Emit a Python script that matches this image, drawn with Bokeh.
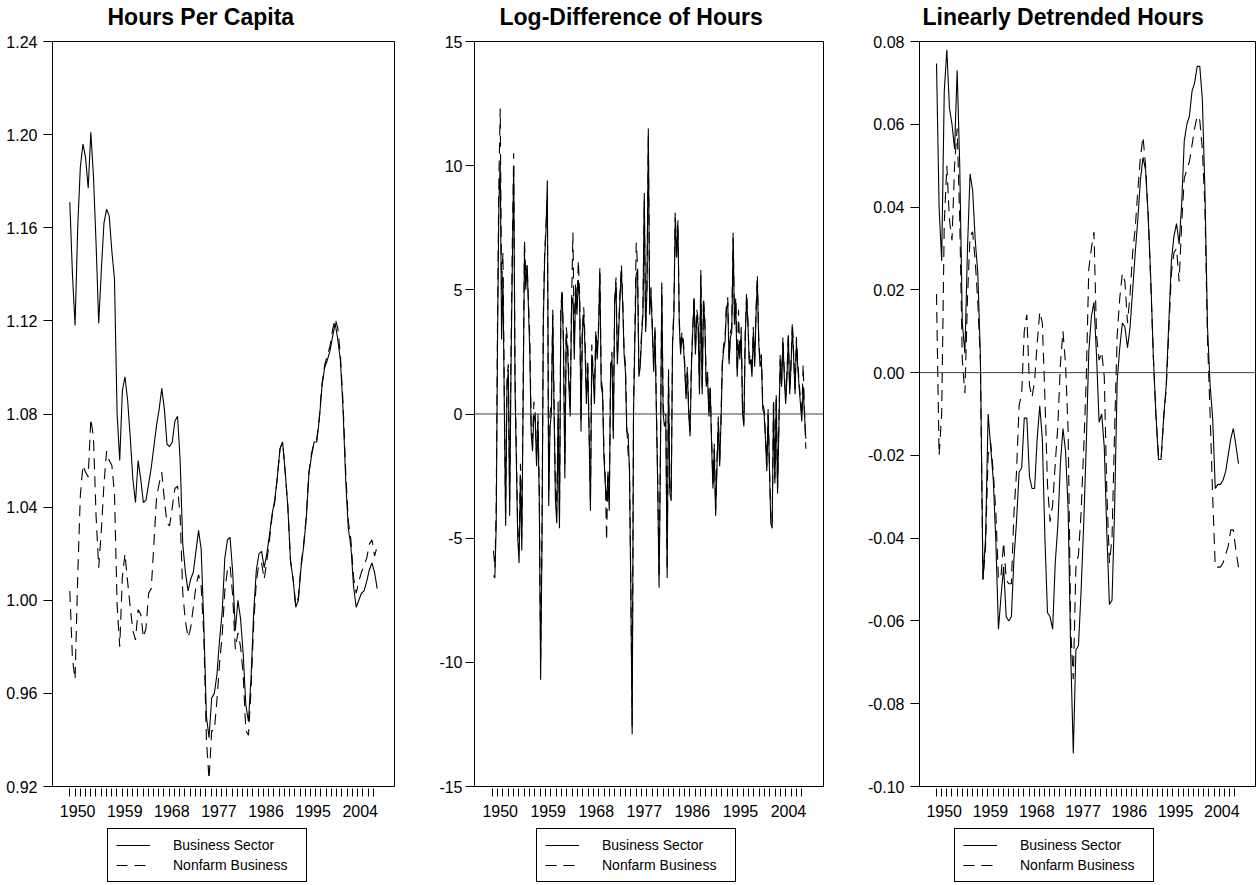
import numpy as np
from bokeh.plotting import figure
from bokeh.models import (Range1d, FixedTicker, LinearAxis, Span, Legend, LegendItem,
                          NumeralTickFormatter, Label)
from bokeh.layouts import row, column
from bokeh.embed import file_html
from bokeh.resources import INLINE

FONT = "Liberation Sans"

# ---------------- data ----------------
START_Q = 1949.0      # first observation (1949Q1)
END_Q = 2007.75       # last observation (2007Q4)

titles = ["Hours Per Capita", "Log-Difference of Hours", "Linearly Detrended Hours"]
series_names = ["Business Sector", "Nonfarm Business"]
label_years = [1950, 1959, 1968, 1977, 1986, 1995, 2004]
year_ticks = list(range(1949, 2008))

y_ticks_1 = [0.92, 0.96, 1.00, 1.04, 1.08, 1.12, 1.16, 1.20, 1.24]
y_ticks_2 = [-15, -10, -5, 0, 5, 10, 15]
y_ticks_3 = [-0.10, -0.08, -0.06, -0.04, -0.02, 0.00, 0.02, 0.04, 0.06, 0.08]

# Hours per capita (half-yearly readings)
hours_bus = [
    1.171, 1.140, 1.118, 1.160, 1.186, 1.196, 1.190, 1.177, 1.201, 1.182,
    1.153, 1.119, 1.142, 1.162, 1.168, 1.165, 1.150, 1.138, 1.080, 1.060,
    1.090, 1.096, 1.086, 1.070, 1.052, 1.042, 1.060, 1.052, 1.042, 1.043,
    1.050, 1.057, 1.066, 1.075, 1.082, 1.091, 1.082, 1.067, 1.066, 1.068,
    1.077, 1.079, 1.060, 1.024, 1.012, 1.004, 1.009, 1.012, 1.021, 1.030,
    1.022, 0.990, 0.950, 0.941, 0.958, 0.960, 0.968, 0.983, 0.995, 1.018,
    1.026, 1.027, 1.012, 0.987, 1.000, 0.992, 0.977, 0.955, 0.948, 0.967,
    0.995, 1.013, 1.020, 1.021, 1.014, 1.020, 1.028, 1.037, 1.043, 1.053,
    1.065, 1.068, 1.055, 1.040, 1.017, 1.009, 0.997, 1.000, 1.014, 1.023,
    1.035, 1.054, 1.062, 1.068, 1.068, 1.078, 1.092, 1.100, 1.103, 1.107,
    1.113, 1.119, 1.112, 1.103, 1.082, 1.052, 1.031, 1.023, 1.006, 0.997,
    1.000, 1.003, 1.004, 1.008, 1.013, 1.016, 1.012, 1.005]
hours_nfb = [
    1.004, 0.975, 0.966, 1.010, 1.045, 1.058, 1.055, 1.053, 1.078, 1.070,
    1.036, 1.014, 1.030, 1.050, 1.064, 1.060, 1.058, 1.046, 0.998, 0.980,
    1.010, 1.020, 1.008, 0.997, 0.987, 0.983, 0.996, 0.994, 0.984, 0.988,
    1.003, 1.005, 1.024, 1.044, 1.050, 1.055, 1.043, 1.033, 1.032, 1.040,
    1.048, 1.049, 1.036, 1.003, 0.991, 0.984, 0.988, 0.997, 1.006, 1.011,
    1.006, 0.985, 0.940, 0.923, 0.944, 0.944, 0.957, 0.973, 0.985, 1.004,
    1.013, 1.015, 1.002, 0.979, 0.986, 0.980, 0.968, 0.944, 0.942, 0.962,
    0.990, 1.008, 1.016, 1.016, 1.009, 1.017, 1.026, 1.036, 1.042, 1.053,
    1.065, 1.068, 1.055, 1.040, 1.017, 1.009, 0.998, 1.001, 1.015, 1.024,
    1.036, 1.055, 1.063, 1.068, 1.069, 1.079, 1.093, 1.101, 1.105, 1.109,
    1.116, 1.121, 1.117, 1.105, 1.085, 1.056, 1.034, 1.026, 1.010, 1.003,
    1.008, 1.012, 1.015, 1.018, 1.024, 1.026, 1.019, 1.023]

# Log-difference of hours (quarterly readings, from 1949Q2)
dlog_bus = [
    -6.5, -6.6, -4.5,
    3.0, 8.5, 10.1, 3.0,   5.5, 0.5, -4.5, 1.0,   1.8, -4.1, 1.8, 6.0,
    10.0, 1.0, -2.0, -5.0,  -6.0, -2.5, -5.5, 0.5,  6.5, 5.0, 6.0, 4.2,
    2.4, -0.8, -1.5, 0.0,  -0.3, -2.1, -0.3, -3.5,  -10.7, -5.3, 3.6, 6.3,
    7.4, 9.4, -3.7, -0.5,  0.0, 4.0, 0.0, -3.5,  -4.4, 0.0, -4.6, 4.0,
    4.9, 2.6, -2.6, 3.1,  2.6, 1.1, -0.1, 4.4,  4.7, 2.2, 5.1, 4.0,
    5.4, 4.5, -0.7, 3.3,  4.0, 2.6, 0.4, 1.9,  -0.8, -3.9, 2.4, 1.5,
    0.4, 3.1, 2.2, 3.3,  5.7, 1.1, 0.8, -1.7,  -2.8, -3.5, -2.5, -3.9,
    1.9, 2.2, -1.0, 4.4,  5.3, 2.0, 3.3, 4.7,  5.8, 4.4, 2.4, 1.7,
    -0.7, -0.8, -2.3, -7.1,  -12.9, 0.0, 3.0, 5.6,  5.8, 1.5, 1.9, 3.1,
    4.0, 8.9, 3.3, 5.0,  11.5,
    4.0, 4.9, 3.3, 1.7, 3.3, 0.0, -3.0, -7.0, -1.7, 5.1,
    0.0, -0.5, -0.3, -6.6, 1.5, -3.2, -3.5, 2.8, 4.0, 7.9,
    6.3, 7.6, 3.6, 2.4, 3.1, 2.8, 1.9, 0.6, 1.7, 0.0,
    -0.9, 1.9, 3.3, 4.6, 2.4, 4.0, 3.6, 0.8, 5.6, 0.8,
    4.5, 3.6, 1.1, 1.5, -0.1, 1.0, -1.2, -3.0, -1.4, -4.1,
    -2.1, -0.3, -2.1, -0.3, 2.0, 2.6, 2.9, 4.2, 4.5, 2.0,
    3.1, 3.3, 7.1, 3.6, 4.5, 1.5, 2.8, 2.2, 3.3, 0.0,
    -0.5, 3.1, 4.7, 3.6, 2.0, 2.2, 1.5, 3.3, 1.9, 4.0,
    5.4, 2.9, 1.9, 2.2, 0.2, 0.0, -1.0, -2.3, 0.0, -2.3,
    -4.4, -4.6, 0.4, -2.8, 0.6, -3.2, -0.5, 2.2, 1.1, 2.9,
    1.5, 0.4, 1.5, 3.1, 0.8, 1.9, 3.5, 2.2, 0.8, 2.9,
    1.9, 1.1, 0.4, -0.3, 1.1, 0.0, -1.0]
dlog_nfb = [
    -5.5, -6.2, -3.8,
    4.0, 9.5, 12.3, 5.0,   6.5, 1.0, -4.0, 1.5,   2.0, -3.5, 2.5, 7.0,
    10.5, 1.5, -1.5, -4.6,  -5.5, -2.0, -5.0, 1.0,  7.0, 5.5, 6.0, 4.5,
    3.0, -0.5, -1.0, 0.5,  0.0, -1.8, 0.0, -3.0,  -10.0, -4.8, 4.0, 6.5,
    7.6, 8.6, -3.2, 0.0,  0.5, 4.2, 0.5, -3.0,  -4.0, 0.5, -4.2, 4.3,
    5.0, 3.0, -2.0, 3.5,  3.0, 1.5, 0.3, 4.6,  7.3, 2.8, 5.3, 4.3,
    6.2, 4.8, -0.3, 3.5,  4.3, 3.0, 0.8, 2.2,  -0.5, -3.5, 2.8, 1.8,
    0.8, 3.4, 2.5, 3.5,  5.9, 1.4, 1.0, -1.4,  -2.5, -5.1, -2.2, -3.6,
    2.1, 2.5, -0.8, 4.6,  5.5, 2.3, 3.6, 4.9,  6.0, 4.6, 2.6, 2.0,
    -0.5, -1.6, -2.0, -6.9,  -12.6, 0.3, 3.3, 6.9,  6.0, 1.8, 2.1, 3.3,
    4.2, 8.6, 3.5, 5.2,  11.2,
    4.3, 5.1, 3.5, 2.0, 3.6, 0.3, -2.6, -6.6, -1.4, 5.3,
    0.3, -0.2, 0.0, -6.3, 1.8, -3.0, -3.2, 3.0, 4.2, 8.1,
    6.5, 7.8, 3.8, 2.6, 3.3, 3.0, 2.1, 0.8, 1.9, 0.2,
    -0.7, 2.1, 3.5, 4.8, 2.6, 4.2, 3.8, 1.0, 5.8, 1.0,
    4.7, 3.8, 1.3, 1.7, 0.1, 1.2, -1.0, -2.8, -1.2, -3.9,
    -1.9, -0.1, -1.9, -0.1, 2.2, 2.8, 3.1, 4.4, 4.7, 2.2,
    3.3, 3.5, 7.3, 3.8, 4.7, 1.7, 4.2, 2.4, 3.5, 0.2,
    -0.3, 3.3, 4.9, 3.8, 2.2, 2.4, 1.7, 3.5, 2.1, 4.2,
    5.6, 3.1, 2.1, 2.4, 0.4, 0.2, -0.8, -2.1, 0.2, -2.1,
    -4.2, -4.4, 0.6, -2.6, 0.8, -3.0, -0.3, 2.4, 1.3, 3.1,
    1.7, 0.6, 1.7, 3.3, 1.0, 2.1, 3.7, 2.4, 1.0, 3.1,
    2.1, 1.3, 0.6, -0.1, 2.0, 0.2, -1.4]

# Linearly detrended hours (half-yearly readings)
detr_bus = [
    0.0747, 0.040, 0.027, 0.068, 0.078, 0.064, 0.060, 0.054, 0.073, 0.050,
    0.012, 0.0047, 0.030, 0.048, 0.044, 0.032, 0.024, 0.004, -0.050, -0.040,
    -0.010, -0.018, -0.026, -0.041, -0.062, -0.054, -0.047, -0.059, -0.060, -0.059,
    -0.045, -0.036, -0.024, -0.023, -0.011, -0.011, -0.025, -0.028, -0.028, -0.016,
    -0.008, -0.016, -0.040, -0.058, -0.059, -0.062, -0.046, -0.037, -0.022, -0.0135,
    -0.019, -0.033, -0.068, -0.092, -0.067, -0.066, -0.053, -0.037, -0.018, 0.005,
    0.0135, 0.017, 0.004, -0.012, -0.010, -0.018, -0.039, -0.056, -0.055, -0.033,
    -0.002, 0.006, 0.012, 0.011, 0.006, 0.011, 0.020, 0.029, 0.037, 0.0465,
    0.052, 0.049, 0.038, 0.023, 0.004, -0.010, -0.021, -0.021, -0.011, -0.003,
    0.012, 0.027, 0.033, 0.036, 0.031, 0.041, 0.056, 0.060, 0.062, 0.068,
    0.070, 0.074, 0.074, 0.066, 0.044, 0.011, -0.003, -0.011, -0.028, -0.027,
    -0.027, -0.026, -0.024, -0.020, -0.016, -0.0135, -0.0176, -0.022]
detr_nfb = [
    0.019, -0.020, -0.010, 0.036, 0.050, 0.037, 0.032, 0.050, 0.059, 0.037,
    0.003, -0.005, 0.018, 0.033, 0.034, 0.027, 0.017, 0.003, -0.050, -0.042,
    -0.020, -0.017, -0.024, -0.034, -0.050, -0.049, -0.041, -0.050, -0.051, -0.051,
    -0.034, -0.024, -0.008, -0.005, 0.010, 0.014, -0.003, -0.006, -0.002, 0.007,
    0.0147, 0.012, -0.006, -0.027, -0.036, -0.032, -0.022, -0.013, 0.002, 0.010,
    0.002, -0.014, -0.062, -0.074, -0.047, -0.044, -0.034, -0.019, -0.002, 0.025,
    0.030, 0.034, 0.009, 0.003, 0.005, -0.001, -0.029, -0.046, -0.040, -0.014,
    0.009, 0.018, 0.024, 0.022, 0.012, 0.019, 0.029, 0.035, 0.044, 0.052,
    0.057, 0.050, 0.038, 0.022, 0.004, -0.010, -0.020, -0.021, -0.011, -0.004,
    0.010, 0.024, 0.029, 0.030, 0.022, 0.036, 0.047, 0.049, 0.051, 0.055,
    0.059, 0.062, 0.061, 0.054, 0.040, 0.008, -0.010, -0.030, -0.047, -0.047,
    -0.047, -0.046, -0.044, -0.042, -0.038, -0.038, -0.043, -0.047]

SOLID = dict(line_color="black", line_width=1.1)
DASHED = dict(line_color="black", line_width=1.1, line_dash="11 7")


def dates(first, n):
    return np.linspace(first, END_Q, n)


def blank_fig(width, height):
    f = figure(width=width, height=height, x_range=Range1d(0, 1), y_range=Range1d(0, 1),
               x_axis_type=None, y_axis_type=None, output_backend="svg",
               toolbar_location=None, min_border=0, min_border_left=0,
               min_border_right=0, min_border_top=0, min_border_bottom=0)
    f.outline_line_color = None
    f.background_fill_color = "white"
    f.border_fill_color = "white"
    return f


def make_panel(title, bus, nfb, first, yticks, yfmt, yrange, width, left, right,
               title_offset, legend_x, label_standoff, zero_line):
    pad = 3.31
    xb = dates(first, len(bus))
    xn = dates(first, len(nfb))

    # title strip
    tf = blank_fig(width, 31)
    tf.add_layout(Label(x=title_offset, y=15, x_units="screen", y_units="screen",
                        text=title, text_font=FONT, text_font_size="23px",
                        text_font_style="bold", text_color="black",
                        text_align="left", text_baseline="alphabetic"))

    p = figure(width=width, height=791,
               x_range=Range1d(START_Q - pad, END_Q + pad),
               y_range=Range1d(*yrange),
               x_axis_type=None, y_axis_type=None,
               output_backend="svg", toolbar_location=None,
               min_border_left=left, min_border_right=right,
               min_border_top=10, min_border_bottom=36)
    p.background_fill_color = "white"
    p.border_fill_color = "white"
    p.outline_line_color = "black"
    p.outline_line_width = 1
    p.outline_line_alpha = 1.0

    yaxis = LinearAxis(ticker=FixedTicker(ticks=yticks),
                       formatter=NumeralTickFormatter(format=yfmt))
    yaxis.axis_line_color = None
    yaxis.major_tick_out = 9
    yaxis.major_tick_in = 0
    yaxis.minor_tick_line_color = None
    yaxis.major_tick_line_color = "black"
    yaxis.major_label_standoff = label_standoff
    yaxis.major_label_text_font = FONT
    yaxis.major_label_text_font_size = "16px"
    yaxis.major_label_text_color = "black"
    p.add_layout(yaxis, "left")

    label_pos = [y + 0.5 for y in label_years]
    xaxis = LinearAxis(ticker=FixedTicker(ticks=label_pos, minor_ticks=year_ticks),
                       major_label_overrides={lp: str(y) for lp, y in zip(label_pos, label_years)})
    xaxis.axis_line_color = None
    xaxis.major_tick_out = 0
    xaxis.major_tick_in = 0
    xaxis.major_tick_line_color = None
    xaxis.minor_tick_out = 10
    xaxis.minor_tick_in = -2
    xaxis.minor_tick_line_color = "black"
    xaxis.major_label_standoff = 8
    xaxis.major_label_text_font = FONT
    xaxis.major_label_text_font_size = "16px"
    xaxis.major_label_text_color = "black"
    p.add_layout(xaxis, "below")

    if zero_line:
        p.add_layout(Span(location=0, dimension="width", line_color="#404040", line_width=1))

    p.line(xn, nfb, **DASHED)
    p.line(xb, bus, **SOLID)

    # legend strip under the panel (hidden copies of the series supply the key glyphs)
    lg = blank_fig(width, 62)
    s_b = lg.line(xb, bus, visible=False, **SOLID)
    s_n = lg.line(xn, nfb, visible=False, **DASHED)
    legend = Legend(items=[LegendItem(label=series_names[0], renderers=[s_b]),
                           LegendItem(label=series_names[1], renderers=[s_n])],
                    location=(legend_x, 2), orientation="vertical",
                    border_line_color="black", border_line_width=1, border_line_alpha=1,
                    background_fill_color="white", background_fill_alpha=1,
                    inactive_fill_alpha=0,
                    label_text_font=FONT, label_text_font_size="14px", label_text_color="black",
                    glyph_width=34, glyph_height=14, label_height=14, label_width=125,
                    label_standoff=23, padding=8, spacing=4, margin=0)
    lg.add_layout(legend)
    return column(tf, p, lg, spacing=0)


c1 = make_panel(titles[0], hours_bus, hours_nfb, START_Q, y_ticks_1, "0.00", (0.92, 1.24),
                414, 52, 20, 55, 55, 6, False)
c2 = make_panel(titles[1], dlog_bus, dlog_nfb, START_Q + 0.25, y_ticks_2, "0", (-15, 15),
                429, 60, 20, 25, 62, 3, True)
c3 = make_panel(titles[2], detr_bus, detr_nfb, START_Q, y_ticks_3, "0.00", (-0.10, 0.08),
                414, 76, 2, 3, 35, 6, True)

layout = row(c1, c2, c3, spacing=0)
open("out.html", "w").write(file_html(layout, INLINE))
